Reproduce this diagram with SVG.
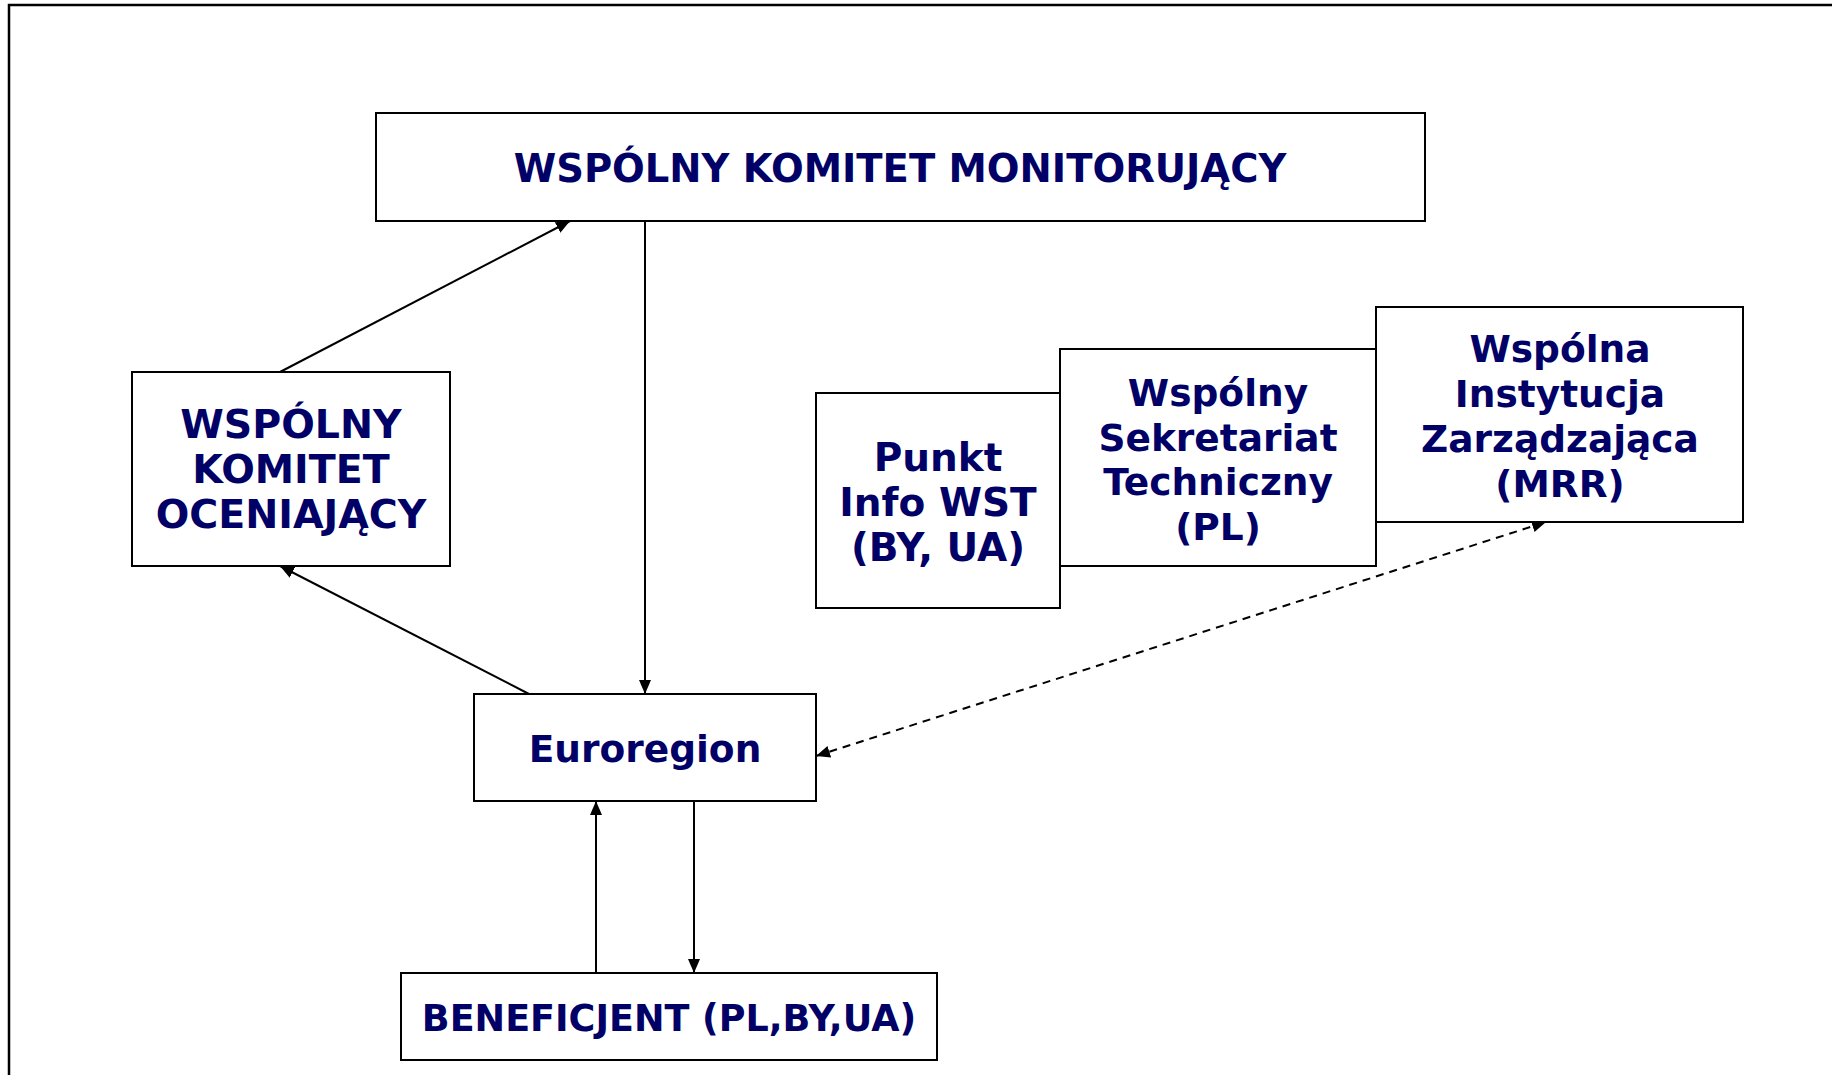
<svg xmlns="http://www.w3.org/2000/svg" width="1832" height="1075" viewBox="0 0 1832 1075">
<style>
.box{fill:#fff;stroke:#000;stroke-width:2}
.t{font-family:"DejaVu Sans","Verdana",sans-serif;font-weight:bold;font-size:37.5px;fill:#000066;text-anchor:middle}
.c{stroke:#000;stroke-width:2;fill:none}
.d{stroke:#000;stroke-width:2;fill:none;stroke-dasharray:8 6}
</style>
<defs>
<marker id="ah" viewBox="0 0 14 12" refX="14" refY="6" markerWidth="14" markerHeight="12" markerUnits="userSpaceOnUse" orient="auto-start-reverse">
<path d="M0,0 L14,6 L0,12 Z" fill="#000"/>
</marker>
</defs>
<rect width="1832" height="1075" fill="#fff"/>
<path d="M9,1075 V5 H1832" fill="none" stroke="#000" stroke-width="2.5"/>
<g id="connectors">
<line class="c" x1="280" y1="372" x2="570" y2="221" marker-end="url(#ah)"/>
<line class="c" x1="645" y1="221" x2="645" y2="694" marker-end="url(#ah)"/>
<line class="c" x1="529" y1="694" x2="280" y2="566" marker-end="url(#ah)"/>
<line class="c" x1="596" y1="973" x2="596" y2="801" marker-end="url(#ah)"/>
<line class="c" x1="694" y1="801" x2="694" y2="973" marker-end="url(#ah)"/>
<line class="d" x1="816" y1="756" x2="1546" y2="522" marker-start="url(#ah)" marker-end="url(#ah)"/>
</g>
<g id="wkm">
<rect class="box" x="376" y="113" width="1049" height="108"/>
<text class="t" x="900" y="182" style="font-size:38.5px">WSPÓLNY KOMITET MONITORUJĄCY</text>
</g>
<g id="wko">
<rect class="box" x="132" y="372" width="318" height="194"/>
<g class="t" style="font-size:39.5px">
<text x="291" y="438">WSPÓLNY</text>
<text x="291" y="483">KOMITET</text>
<text x="291" y="528">OCENIAJĄCY</text>
</g>
</g>
<g id="punkt">
<rect class="box" x="816" y="393" width="244" height="215"/>
<g class="t" style="font-size:39px">
<text x="938" y="471">Punkt</text>
<text x="938" y="516">Info WST</text>
<text x="938" y="561">(BY, UA)</text>
</g>
</g>
<g id="wst">
<rect class="box" x="1060" y="349" width="316" height="217"/>
<text class="t" x="1218" y="406">Wspólny</text>
<text class="t" x="1218" y="451">Sekretariat</text>
<text class="t" x="1218" y="495">Techniczny</text>
<text class="t" x="1218" y="540">(PL)</text>
</g>
<g id="wiz">
<rect class="box" x="1376" y="307" width="367" height="215"/>
<text class="t" x="1560" y="362">Wspólna</text>
<text class="t" x="1560" y="407">Instytucja</text>
<text class="t" x="1560" y="452">Zarządzająca</text>
<text class="t" x="1560" y="497">(MRR)</text>
</g>
<g id="euroregion">
<rect class="box" x="474" y="694" width="342" height="107"/>
<text class="t" x="645" y="762">Euroregion</text>
</g>
<g id="beneficjent">
<rect class="box" x="401" y="973" width="536" height="87"/>
<text class="t" x="669" y="1031" style="font-size:36.5px">BENEFICJENT (PL,BY,UA)</text>
</g>
</svg>
